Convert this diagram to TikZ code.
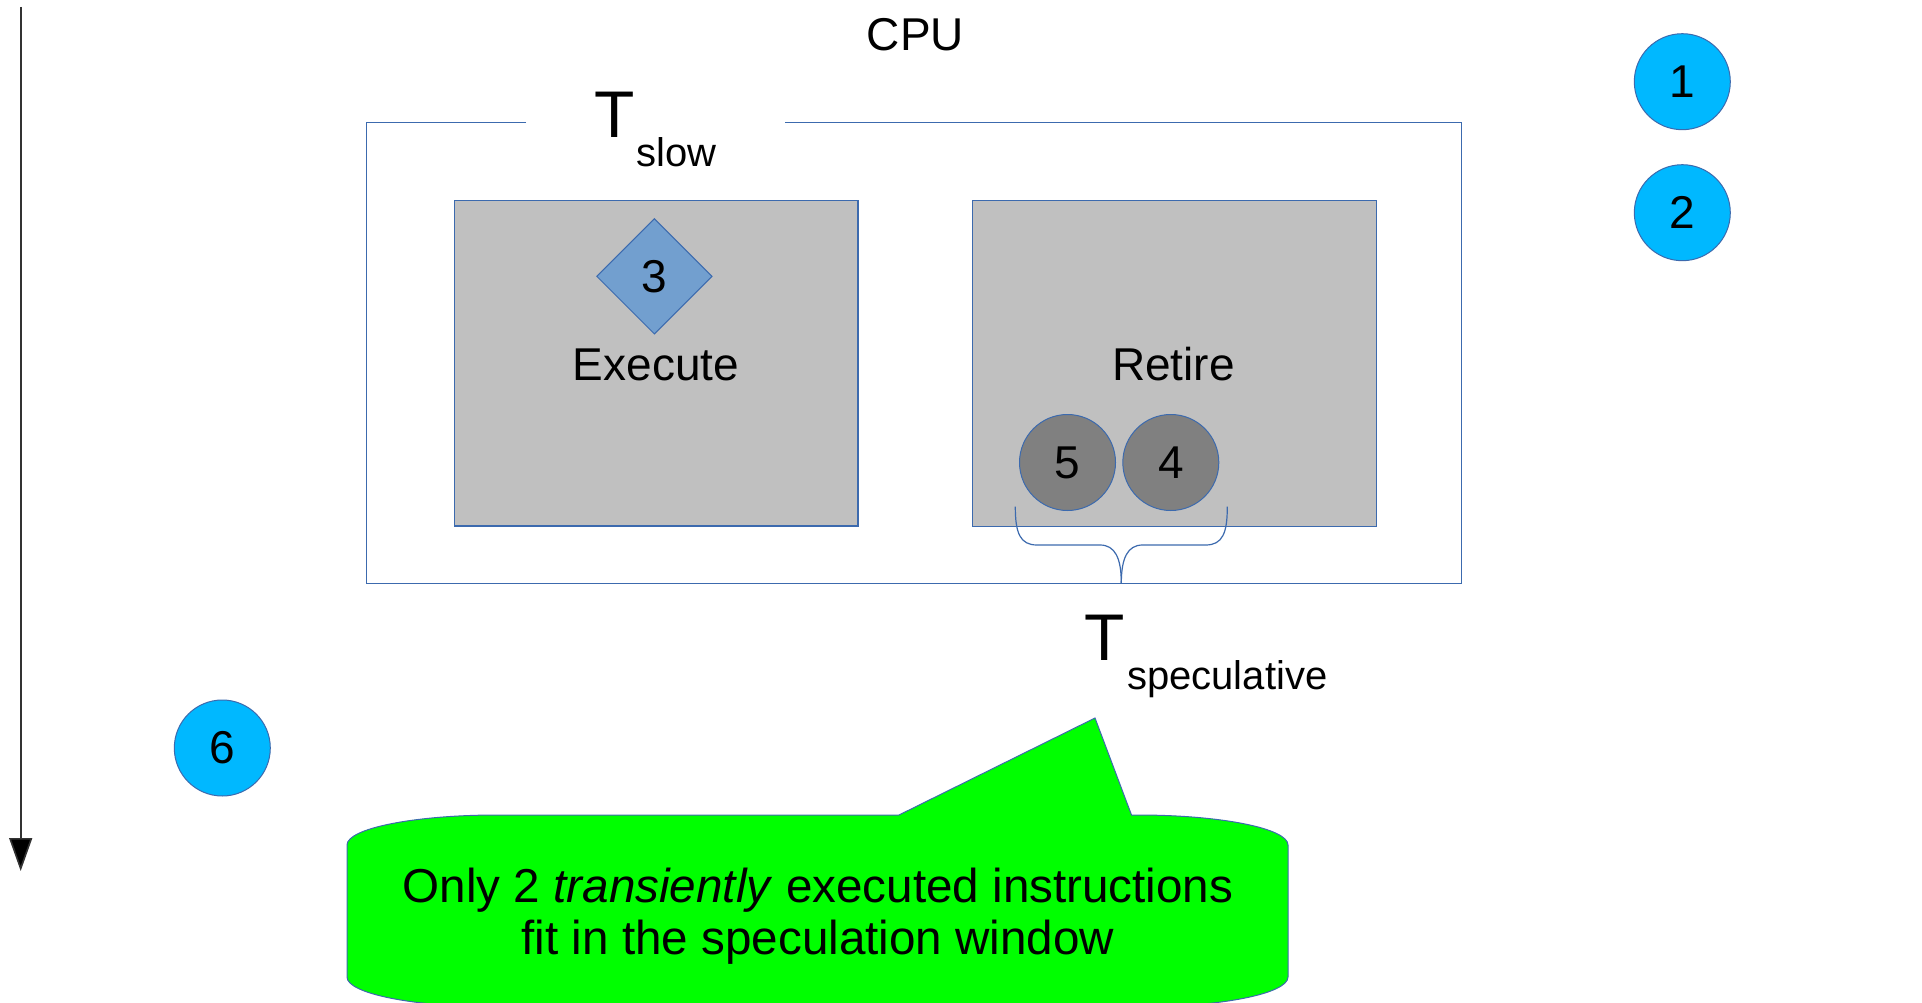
\documentclass[tikz,border=0pt]{standalone}
\usepackage{fontspec}
\setmainfont{Liberation Sans}
\usetikzlibrary{shapes.geometric,arrows.meta}
\definecolor{lineblue}{HTML}{3C6AAE}
\definecolor{boxgray}{HTML}{C0C0C0}
\definecolor{diamondblue}{HTML}{729FCF}
\definecolor{cyanfill}{HTML}{00B8FF}
\definecolor{darkfill}{HTML}{808080}
\definecolor{calloutgreen}{HTML}{00FF00}
\tikzset{
  stagebox/.style={draw=lineblue, line width=1.2pt, fill=boxgray, inner sep=0pt, anchor=north west},
  txt/.style={inner sep=0pt, font=\fontsize{46}{52}\selectfont},
  callouttxt/.style={inner sep=0pt, anchor=base, font=\fontsize{47.6}{52}\selectfont},
  bigT/.style={inner sep=0pt, anchor=base west, font=\fontsize{66}{70}\selectfont},
  subtxt/.style={inner sep=0pt, anchor=base west, font=\fontsize{40}{44}\selectfont},
  stepcircle/.style={circle, draw=lineblue, line width=1pt, fill=cyanfill, minimum size=96pt, inner sep=0pt, font=\fontsize{46}{52}\selectfont},
  instrcircle/.style={circle, draw=lineblue, line width=1pt, fill=darkfill, minimum size=96pt, inner sep=0pt, font=\fontsize{46}{52}\selectfont},
  instrdiamond/.style={diamond, draw=lineblue, line width=1pt, fill=diamondblue, minimum width=115.6pt, minimum height=115.6pt, inner sep=0pt, font=\fontsize{46}{52}\selectfont},
  bracepath/.style={draw=lineblue, line width=1.2pt},
  calloutshape/.style={draw=lineblue, line width=1pt, fill=calloutgreen},
}
\begin{document}
\begin{tikzpicture}[x=1pt, y=-1pt]
\useasboundingbox (0,0) rectangle (1922,1003);
\fill[white] (0,0) rectangle (1922,1003);

% time arrow
\coordinate (timetop) at (20.7,7);
\coordinate (timebottom) at (20.7,871);
\draw[line width=1.6pt, black!80, -{Triangle[width=23pt,length=33pt,fill=black]}] (timetop) -- (timebottom);

% CPU label
\node[txt, anchor=base] (cpu) at (915.5,51) {CPU};

% outer CPU box with gap for T_slow
\draw[lineblue, line width=1.2pt] (526,122.7) -- (366.5,122.7) -- (366.5,583.3) -- (1461.3,583.3) -- (1461.3,122.7) -- (785,122.7);

% T slow
\node[bigT] (tslowT) at (594,137.7) {T};
\node[subtxt] (tslowsub) at (636,166.7) {slow};

% stage boxes
\node[stagebox, minimum width=403.6pt, minimum height=325.6pt] (exec) at (453.7,199.7) {};
\node[stagebox, minimum width=403.6pt, minimum height=326pt] (retire) at (972,199.7) {};

\node[txt, anchor=base] (exectext) at (655.9,380.7) {Execute};
\node[txt, anchor=base] (retiretext) at (1173.5,380.7) {Retire};

% instructions
\node[instrdiamond] (i3) at (654.4,276.3) {3};
\node[instrcircle] (i5) at (1067.5,462.5) {5};
\node[instrcircle] (i4) at (1170.8,462.5) {4};

% brace
\coordinate (brL) at (1015.3,506.7);
\coordinate (brR) at (1227.3,506.7);
\coordinate (brTip) at (1121.3,583.3);
\draw[bracepath] (brL) .. controls (1015.3,533) and (1020,545) .. (1037,545) -- (1100,545) .. controls (1115,545) and (1121.3,558) .. (brTip);
\draw[bracepath] (brR) .. controls (1227.3,533) and (1222.6,545) .. (1205.6,545) -- (1142.6,545) .. controls (1127.6,545) and (1121.3,558) .. (brTip);

% T speculative
\node[bigT] (tspecT) at (1084,660.7) {T};
\node[subtxt] (tspecsub) at (1127,689.3) {speculative};

% step circles
\node[stepcircle] (s1) at (1682.3,81.7) {1};
\node[stepcircle] (s2) at (1682.3,212.7) {2};
\node[stepcircle] (s6) at (222.3,748) {6};

% callout
\draw[calloutshape] (347,845) .. controls (347,828.4) and (414.2,815) .. (497,815) -- (899,815) -- (1095,718) -- (1131.5,815) -- (1138,815) .. controls (1220.8,815) and (1288,828.4) .. (1288,845) -- (1288,977) .. controls (1288,993.6) and (1220.8,1007) .. (1138,1007) -- (497,1007) .. controls (414.2,1007) and (347,993.6) .. (347,977) -- cycle;
\node[callouttxt] (callout1) at (818,902.3) {Only 2 \textit{transiently} executed instructions};
\node[callouttxt] (callout2) at (818,954) {fit in the speculation window};
\end{tikzpicture}
\end{document}
